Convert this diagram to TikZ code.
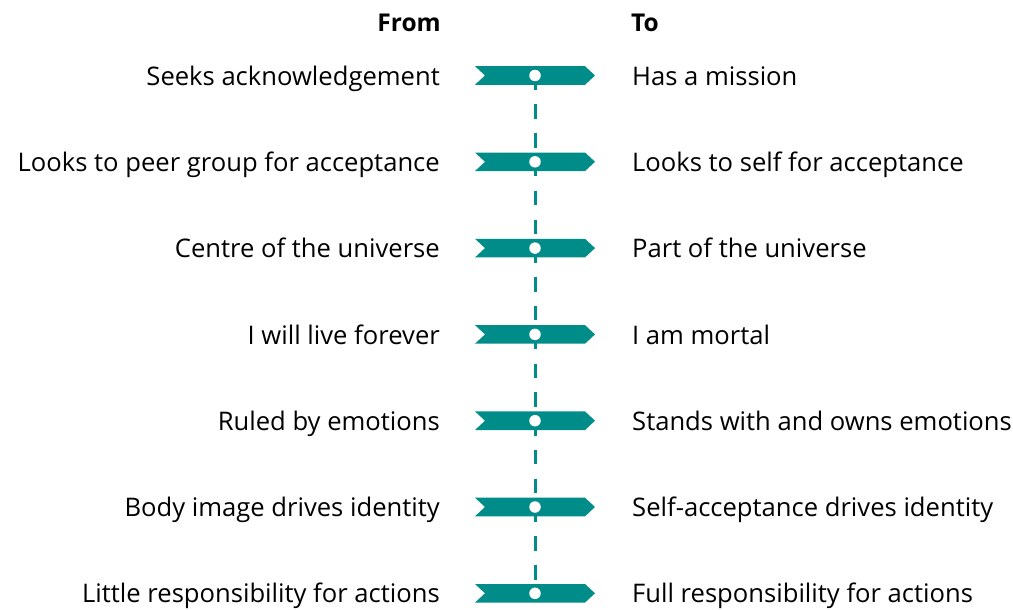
\documentclass[tikz,border=0pt]{standalone}
\usepackage{fontspec}
\setmainfont{Open Sans}
\definecolor{teal1}{RGB}{0,141,138}
\begin{document}
\begin{tikzpicture}[x=1pt,y=-1pt,
  lbl/.style={font=\fontsize{25.6}{28}\selectfont, inner sep=0pt, text=black},
  head/.style={font=\fontsize{24.5}{28}\selectfont\bfseries, inner sep=0pt},
  dot/.style={circle, fill=white, minimum size=11.5pt, inner sep=0pt},
  chev/.style={fill=teal1},
  spine/.style={draw=teal1, line width=3pt, dash pattern=on 14.4pt off 14.4pt}]
\useasboundingbox (0,0) rectangle (1013,610);
\node[head, anchor=base east] (from) at (441,31.5) {From};
\node[head, anchor=base west] (to) at (631,31.5) {To};
\foreach \i/\l/\r in {1/Seeks acknowledgement/Has a mission,
  2/Looks to peer group for acceptance/Looks to self for acceptance,
  3/Centre of the universe/Part of the universe,
  4/I will live forever/I am mortal,
  5/Ruled by emotions/Stands with and owns emotions,
  6/Body image drives identity/Self-acceptance drives identity,
  7/Little responsibility for actions/Full responsibility for actions}{
  \pgfmathsetmacro\yy{75.5+86.3*(\i-1)}
  \coordinate (p\i) at (535,\yy);
  \node[lbl, anchor=base east] (l\i) at (440,\yy+9.6) {\l};
  \node[lbl, anchor=base west] (r\i) at (632,\yy+9.6) {\r};
}
\draw[spine] (p1) -- (p7);
\foreach \i in {1,...,7}{
  \fill[chev] ([xshift=-60pt,yshift=-9.3pt]p\i) -- ([xshift=50pt,yshift=-9.3pt]p\i) -- ([xshift=60pt]p\i) -- ([xshift=50pt,yshift=9.3pt]p\i) -- ([xshift=-60pt,yshift=9.3pt]p\i) -- ([xshift=-50pt]p\i) -- cycle;
  \node[dot] (c\i) at (p\i) {};
}
\end{tikzpicture}
\end{document}
